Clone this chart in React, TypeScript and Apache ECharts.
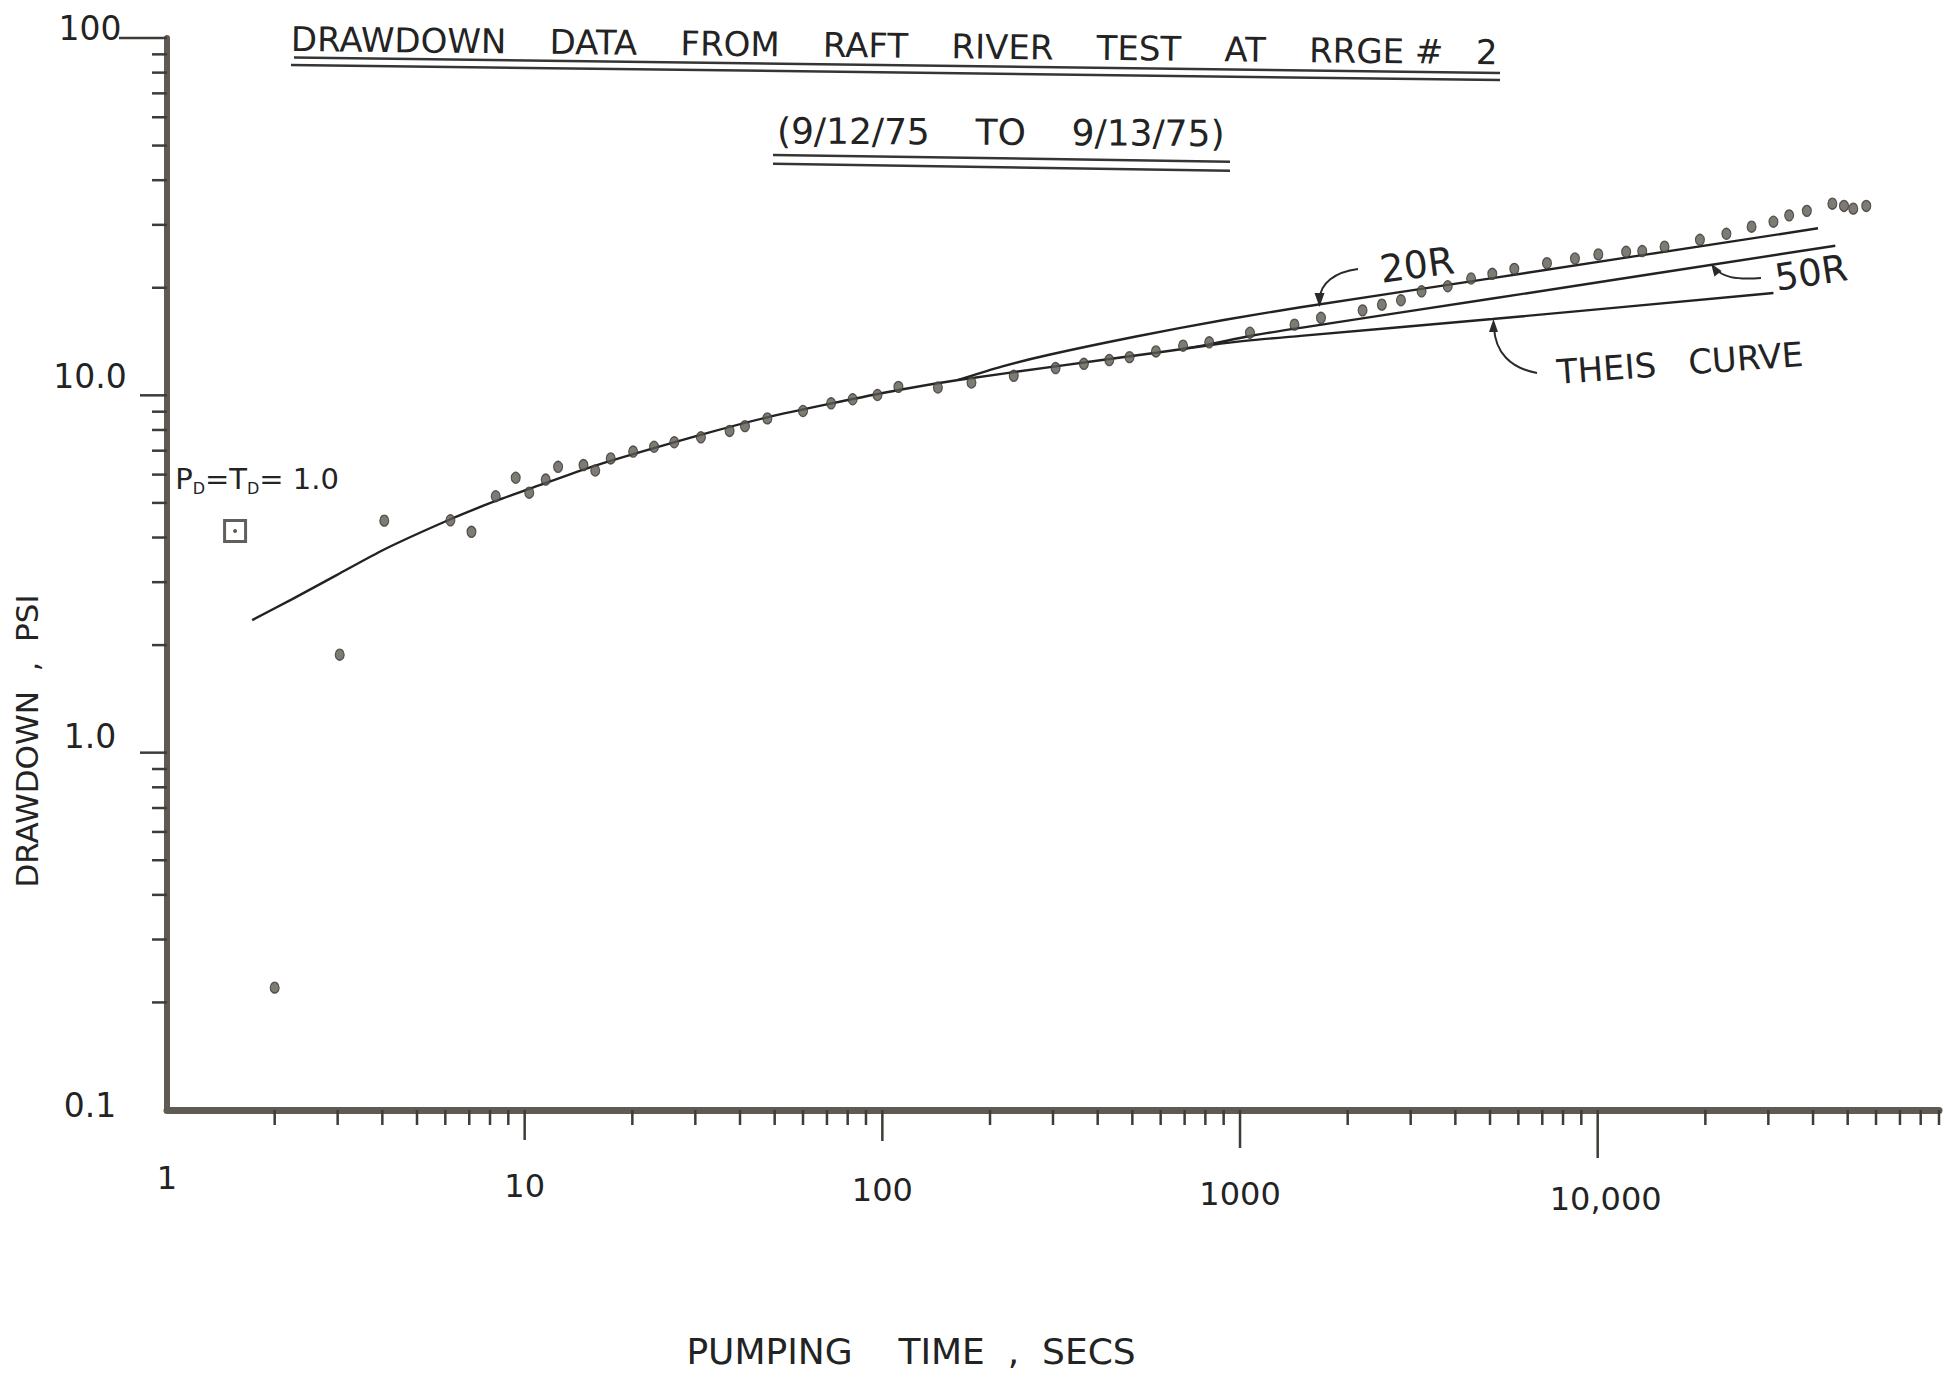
import React, { useEffect, useRef } from "react";
import * as echarts from "echarts";

// ---------- data (pumping time in s, drawdown in psi) ----------
const timeSecs = [
  2.0, 3.04, 4.05, 6.2, 7.1, 8.3, 9.44, 10.3, 11.45, 12.4, 14.6, 15.75, 17.4, 20.1, 23.0,
  26.2, 31.1, 37.4, 41.3, 47.7, 60.0, 71.9, 82.6, 96.9, 110.9, 143, 177.5, 233, 305, 366,
  431, 491, 582, 693, 820, 1066, 1420, 1684, 2201, 2492, 2818, 3218, 3808, 4426, 5073,
  5846, 7214, 8638, 10040, 12010, 13320, 15380, 19310, 22900, 26930, 31000, 34300, 38440,
  45300, 48820, 51830, 56350,
];
const drawdownPsi = [
  0.22, 1.88, 4.46, 4.47, 4.15, 5.22, 5.88, 5.34, 5.81, 6.31, 6.38, 6.16, 6.66, 6.96, 7.18,
  7.39, 7.63, 7.95, 8.2, 8.62, 9.04, 9.5, 9.75, 10.02, 10.56, 10.52, 10.86, 11.34, 11.92,
  12.25, 12.55, 12.79, 13.27, 13.77, 14.07, 14.97, 15.77, 16.48, 17.29, 17.94, 18.45, 19.55,
  20.2, 21.23, 21.88, 22.59, 23.44, 24.15, 24.8, 25.22, 25.34, 26.06, 27.25, 28.32, 29.65,
  30.61, 31.89, 32.83, 34.39, 33.89, 33.3, 33.89,
];

const theisTime = [1.73, 2.24, 2.98, 4.06, 6.2, 8.33, 10.3, 15.7, 31.2, 47.7, 71.6, 111, 163, 305, 582, 820, 1083, 1477, 5080, 31000];
const theisDrawdown = [2.35, 2.69, 3.14, 3.71, 4.5, 5.07, 5.47, 6.35, 7.76, 8.68, 9.48, 10.35, 11.04, 12.05, 13.16, 13.81, 14.27, 14.67, 16.35, 19.34];

const r20Time = [163, 216.6, 288.5, 512, 909, 1477, 5080, 41300];
const r20Drawdown = [11.04, 12.05, 12.95, 14.61, 16.28, 17.64, 21.29, 29.34];

const r50Time = [693, 820, 1066, 1477, 5080, 46170];
const r50Drawdown = [13.49, 13.89, 14.66, 15.45, 18.66, 26.22];

const matchTime = [1.55];
const matchDrawdown = [4.17];

const xTickLabels = ["1", "10", "100", "1000", "10,000"];
const yTickLabels = ["0.1", "1.0", "10.0", "100"];

const X_MIN = 1;
const X_MAX = 90000;
const Y_MIN = 0.1;
const Y_MAX = 100;

// ---------- styling ----------
const FONT = '"DejaVu Sans", "Liberation Sans", sans-serif';
const INK = "#232323";
const AXIS = "#5f5a54";
const TICK = "#3f3b37";

const G2 = "\u00a0 ";
const G3 = "\u00a0\u00a0 ";
const G4 = "\u00a0\u00a0\u00a0 ";

function logTicks(min: number, max: number): number[] {
  const out: number[] = [];
  for (let e = Math.floor(Math.log10(min)); e <= Math.ceil(Math.log10(max)); e++) {
    for (let m = 1; m <= 9; m++) {
      const v = Number((m * Math.pow(10, e)).toPrecision(6));
      if (v >= min * 0.999 && v <= max * 1.001) out.push(v);
    }
  }
  return out;
}

const xMajorLen: Record<number, number> = { 0: 0, 1: 30, 2: 31, 3: 38, 4: 48 };
const yMajorLen: Record<number, number> = { [-1]: 0, 0: 27, 1: 27, 2: 48 };

const pairs = (xs: number[], ys: number[]) => xs.map((x, i) => [x, ys[i]]);

function txt(x: number, y: number, text: string, size: number, rotation = 0, align = "center") {
  return {
    type: "text",
    x,
    y,
    rotation,
    silent: true,
    style: {
      text,
      fontSize: size,
      fontFamily: FONT,
      fill: INK,
      align,
      textAlign: align,
      verticalAlign: "middle",
      textVerticalAlign: "middle",
    },
  };
}

function seg(x1: number, y1: number, x2: number, y2: number, w = 2.5) {
  return { type: "line", silent: true, shape: { x1, y1, x2, y2 }, style: { stroke: "#353535", lineWidth: w } };
}

function curve(x1: number, y1: number, cpx1: number, cpy1: number, cpx2: number, cpy2: number, x2: number, y2: number) {
  return {
    type: "bezierCurve",
    silent: true,
    shape: { x1, y1, cpx1, cpy1, cpx2, cpy2, x2, y2 },
    style: { stroke: "#2a2a2a", lineWidth: 2, fill: null },
  };
}

function head(points: number[][]) {
  return { type: "polygon", silent: true, shape: { points }, style: { fill: "#2a2a2a" } };
}

export default function App() {
  const ref = useRef<HTMLDivElement>(null);

  useEffect(() => {
    if (!ref.current) return;
    const chart = echarts.init(ref.current, null, { renderer: "svg" });

    const lineStyle = { color: "#222", width: 2.4 };

    const option: any = {
      animation: false,
      backgroundColor: "#ffffff",
      grid: { left: 167, right: 5, top: 38, bottom: 267, containLabel: false, outerBoundsMode: "none" },
      xAxis: {
        type: "log",
        logBase: 10,
        min: X_MIN,
        max: X_MAX,
        axisLine: { show: true, onZero: false, lineStyle: { color: AXIS, width: 7 } },
        axisTick: { show: false },
        splitLine: { show: false },
        minorTick: { show: false },
        axisLabel: {
          show: true,
          showMinLabel: true,
          showMaxLabel: false,
          margin: 68,
          verticalAlign: "middle",
          formatter: (v: number) => {
            const i = Math.round(Math.log10(v));
            if (i < 0 || i >= xTickLabels.length || Math.abs(Math.log10(v) - i) > 1e-6) return "";
            return `{x${i}|${xTickLabels[i]}}`;
          },
          rich: {
            x0: { fontFamily: FONT, fontSize: 32, color: INK, lineHeight: 34, padding: [0, 0, 0, 0] },
            x1: { fontFamily: FONT, fontSize: 32, color: INK, lineHeight: 34, padding: [16, 0, 0, 0] },
            x2: { fontFamily: FONT, fontSize: 32, color: INK, lineHeight: 34, padding: [24, 0, 0, 0] },
            x3: { fontFamily: FONT, fontSize: 32, color: INK, lineHeight: 34, padding: [32, 0, 0, 0] },
            x4: { fontFamily: FONT, fontSize: 32, color: INK, lineHeight: 34, padding: [42, 0, 0, 16] },
          },
        },
      },
      yAxis: {
        type: "log",
        logBase: 10,
        min: Y_MIN,
        max: Y_MAX,
        axisLine: { show: true, onZero: false, lineStyle: { color: AXIS, width: 6 } },
        axisTick: { show: false },
        splitLine: { show: false },
        minorTick: { show: false },
        axisLabel: {
          show: true,
          showMinLabel: true,
          showMaxLabel: true,
          margin: 77,
          align: "center",
          verticalAlign: "middle",
          formatter: (v: number) => {
            const i = Math.round(Math.log10(v)) + 1;
            return `{y${i}|${yTickLabels[i]}}`;
          },
          rich: {
            y0: { fontFamily: FONT, fontSize: 33, color: INK, lineHeight: 36, padding: [0, 0, 10, 0] },
            y1: { fontFamily: FONT, fontSize: 33, color: INK, lineHeight: 36, padding: [0, 0, 32, 0] },
            y2: { fontFamily: FONT, fontSize: 33, color: INK, lineHeight: 36, padding: [0, 0, 38, 0] },
            y3: { fontFamily: FONT, fontSize: 33, color: INK, lineHeight: 36, padding: [0, 0, 20, 0] },
          },
        },
      },
      series: [
        {
          name: "x ticks",
          type: "custom",
          silent: true,
          clip: false,
          z: 3,
          data: logTicks(X_MIN, X_MAX).map((v) => [v, Y_MIN]),
          renderItem: (_p: any, api: any) => {
            const v = api.value(0);
            const pt = api.coord([v, Y_MIN]);
            const e = Math.log10(v);
            const r = Math.round(e);
            const len = Math.abs(e - r) < 1e-6 ? xMajorLen[r] : 15;
            if (!len) return { type: "group", children: [] };
            return {
              type: "line",
              shape: { x1: pt[0], y1: pt[1], x2: pt[0], y2: pt[1] + len },
              style: { stroke: TICK, lineWidth: 2.5 },
            };
          },
        },
        {
          name: "y ticks",
          type: "custom",
          silent: true,
          clip: false,
          z: 3,
          data: logTicks(Y_MIN, Y_MAX).map((v) => [X_MIN, v]),
          renderItem: (_p: any, api: any) => {
            const v = api.value(1);
            const pt = api.coord([X_MIN, v]);
            const e = Math.log10(v);
            const r = Math.round(e);
            const len = Math.abs(e - r) < 1e-6 ? yMajorLen[r] : 15;
            if (!len) return { type: "group", children: [] };
            return {
              type: "line",
              shape: { x1: pt[0] - len, y1: pt[1], x2: pt[0], y2: pt[1] },
              style: { stroke: TICK, lineWidth: 2.5 },
            };
          },
        },
        {
          name: "Theis curve",
          type: "line",
          data: pairs(theisTime, theisDrawdown),
          showSymbol: false,
          smooth: 0.25,
          lineStyle,
          z: 4,
        },
        {
          name: "20R",
          type: "line",
          data: pairs(r20Time, r20Drawdown),
          showSymbol: false,
          smooth: 0.25,
          lineStyle,
          z: 4,
        },
        {
          name: "50R",
          type: "line",
          data: pairs(r50Time, r50Drawdown),
          showSymbol: false,
          smooth: 0.25,
          lineStyle,
          z: 4,
        },
        {
          name: "Drawdown data",
          type: "scatter",
          data: pairs(timeSecs, drawdownPsi),
          symbol: "circle",
          symbolSize: [9, 11],
          itemStyle: { color: "#5e5a53", borderColor: "#3b3834", borderWidth: 1.2 },
          z: 6,
        },
        {
          name: "Match point",
          type: "scatter",
          data: pairs(matchTime, matchDrawdown),
          symbol: "rect",
          symbolSize: 21,
          itemStyle: { color: "#ffffff", borderColor: "#3a3632", borderWidth: 3 },
          z: 6,
          label: {
            show: true,
            position: "inside",
            offset: [22, -52],
            color: INK,
            textBorderWidth: 0,
            opacity: 1,
            formatter: "{m|P}{s|D}{m|=T}{s|D}{m|= 1.0}",
            rich: {
              m: { fontFamily: FONT, fontSize: 29, color: INK, lineHeight: 34, textBorderWidth: 0 },
              s: { fontFamily: FONT, fontSize: 16, color: INK, lineHeight: 16, verticalAlign: "bottom", textBorderWidth: 0 },
            },
          },
        },
        {
          name: "Match point centre",
          type: "scatter",
          data: pairs(matchTime, matchDrawdown),
          symbol: "circle",
          symbolSize: 4,
          itemStyle: { color: "#333" },
          z: 7,
        },
      ],
      graphic: [
        txt(291, 39, `DRAWDOWN${G4}DATA${G4}FROM${G4}RAFT${G4}RIVER${G4}TEST${G4}AT${G4}RRGE #${G3}2`, 34, -0.011, "left"),
        seg(294, 57.5, 1500, 73),
        seg(291, 65, 1500, 80),
        txt(777, 131, `(9/12/75${G4}TO${G4}9/13/75)`, 36, -0.006, "left"),
        seg(773, 155, 1230, 161.7),
        seg(773, 163.7, 1230, 170.8),
        txt(27, 741, `DRAWDOWN${G2},${G2}PSI`, 31, Math.PI / 2),
        txt(911, 1351, `PUMPING${G4}TIME${G2},${G2}SECS`, 36),
        txt(1417, 265, "20R", 38, 0.13),
        txt(1811, 273, "50R", 37, 0.15),
        txt(1680, 363, `THEIS${G3}CURVE`, 34, 0.073),
        curve(1358, 269, 1335, 272, 1320, 283, 1319.5, 300),
        head([[1314.5, 293], [1324.5, 293], [1319.5, 307]]),
        curve(1761, 278, 1735, 280, 1722, 277, 1715, 268),
        head([[1711, 263.5], [1721.6, 271], [1714.4, 276.4]]),
        curve(1537, 373, 1510, 368, 1495, 352, 1494, 327),
        head([[1493.5, 319], [1489, 332], [1498, 332]]),
      ],
    };

    chart.setOption(option);
    return () => chart.dispose();
  }, []);

  return (
    <div
      ref={ref}
      style={{ position: "fixed", left: 0, top: 0, width: 1944, height: 1377, background: "#fff" }}
    />
  );
}
